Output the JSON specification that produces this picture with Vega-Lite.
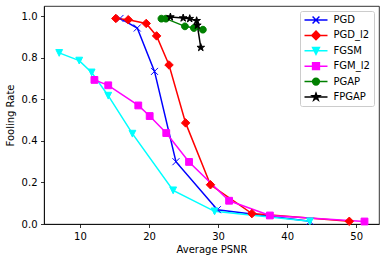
{
  "$schema": "https://vega.github.io/schema/vega-lite/v6.json",
  "width": 335,
  "height": 218,
  "autosize": "none",
  "padding": {"left": 44, "top": 6, "right": 7, "bottom": 38},
  "config": {
    "font": "DejaVu Sans",
    "view": {"stroke": "#000000", "strokeWidth": 0.8},
    "axis": {
      "grid": false,
      "domainColor": "#000000",
      "domainWidth": 0.8,
      "tickColor": "#000000",
      "tickWidth": 0.8,
      "tickSize": 3.5,
      "labelPadding": 3.5,
      "labelFont": "DejaVu Sans",
      "labelFontSize": 10,
      "labelColor": "#000000",
      "titleFont": "DejaVu Sans",
      "titleFontSize": 10,
      "titleFontWeight": "normal",
      "titleColor": "#000000"
    },
    "legend": {
      "orient": "top-right",
      "offset": 5,
      "padding": 3.5,
      "fillColor": "rgba(255,255,255,0.8)",
      "strokeColor": "#cccccc",
      "cornerRadius": 2,
      "labelFont": "DejaVu Sans",
      "labelFontSize": 10,
      "labelColor": "#000000",
      "symbolSize": 529,
      "symbolStrokeWidth": 1.5,
      "clipHeight": 11,
      "rowPadding": 4.4,
      "labelOffset": 5
    }
  },
  "data": {
    "values": [
      {"series": "PGD", "psnr": 15.8, "rate": 0.99},
      {"series": "PGD", "psnr": 18.3, "rate": 0.944},
      {"series": "PGD", "psnr": 20.8, "rate": 0.735},
      {"series": "PGD", "psnr": 23.9, "rate": 0.30},
      {"series": "PGD", "psnr": 29.9, "rate": 0.069},
      {"series": "PGD", "psnr": 43.3, "rate": 0.013},
      {"series": "PGD_l2", "psnr": 15.2, "rate": 0.99},
      {"series": "PGD_l2", "psnr": 17.0, "rate": 0.984},
      {"series": "PGD_l2", "psnr": 19.6, "rate": 0.966},
      {"series": "PGD_l2", "psnr": 21.1, "rate": 0.906},
      {"series": "PGD_l2", "psnr": 22.9, "rate": 0.766},
      {"series": "PGD_l2", "psnr": 25.3, "rate": 0.487},
      {"series": "PGD_l2", "psnr": 28.9, "rate": 0.189},
      {"series": "PGD_l2", "psnr": 34.9, "rate": 0.05},
      {"series": "PGD_l2", "psnr": 49.0, "rate": 0.013},
      {"series": "FGSM", "psnr": 7.0, "rate": 0.824},
      {"series": "FGSM", "psnr": 9.9, "rate": 0.787},
      {"series": "FGSM", "psnr": 11.7, "rate": 0.73},
      {"series": "FGSM", "psnr": 14.1, "rate": 0.618},
      {"series": "FGSM", "psnr": 17.6, "rate": 0.435},
      {"series": "FGSM", "psnr": 23.5, "rate": 0.162},
      {"series": "FGSM", "psnr": 29.5, "rate": 0.061},
      {"series": "FGSM", "psnr": 43.3, "rate": 0.013},
      {"series": "FGM_l2", "psnr": 12.1, "rate": 0.694},
      {"series": "FGM_l2", "psnr": 14.1, "rate": 0.668},
      {"series": "FGM_l2", "psnr": 18.45, "rate": 0.571},
      {"series": "FGM_l2", "psnr": 20.1, "rate": 0.52},
      {"series": "FGM_l2", "psnr": 22.5, "rate": 0.438},
      {"series": "FGM_l2", "psnr": 25.8, "rate": 0.299},
      {"series": "FGM_l2", "psnr": 31.6, "rate": 0.112},
      {"series": "FGM_l2", "psnr": 37.5, "rate": 0.041},
      {"series": "FGM_l2", "psnr": 51.2, "rate": 0.012},
      {"series": "PGAP", "psnr": 21.8, "rate": 0.989},
      {"series": "PGAP", "psnr": 22.45, "rate": 0.989},
      {"series": "PGAP", "psnr": 25.2, "rate": 0.952},
      {"series": "PGAP", "psnr": 26.5, "rate": 0.944},
      {"series": "PGAP", "psnr": 27.8, "rate": 0.936},
      {"series": "FPGAP", "psnr": 23.1, "rate": 0.997},
      {"series": "FPGAP", "psnr": 24.95, "rate": 0.992},
      {"series": "FPGAP", "psnr": 25.9, "rate": 0.989},
      {"series": "FPGAP", "psnr": 26.9, "rate": 0.979},
      {"series": "FPGAP", "psnr": 27.0, "rate": 0.957},
      {"series": "FPGAP", "psnr": 27.5, "rate": 0.85}
    ]
  },
  "encoding": {
    "x": {
      "field": "psnr",
      "type": "quantitative",
      "title": "Average PSNR",
      "scale": {"domain": [4.8, 53.3], "nice": false, "zero": false},
      "axis": {"values": [10, 20, 30, 40, 50], "titlePadding": 3}
    },
    "y": {
      "field": "rate",
      "type": "quantitative",
      "title": "Fooling Rate",
      "scale": {"domain": [0, 1.05], "nice": false, "zero": false},
      "axis": {"values": [0, 0.2, 0.4, 0.6, 0.8, 1.0], "format": ".1f", "titlePadding": 6}
    }
  },
  "layer": [
    {
      "mark": {"type": "line", "strokeWidth": 1.5},
      "encoding": {
        "color": {
          "field": "series",
          "type": "nominal",
          "scale": {
            "domain": ["PGD", "PGD_l2", "FGSM", "FGM_l2", "PGAP", "FPGAP"],
            "range": ["#0000ff", "#ff0000", "#00ffff", "#ff00ff", "#008000", "#000000"]
          },
          "legend": {
            "title": null,
            "encode": {
              "symbols": {
                "update": {
                  "shape": {"signal": "datum.value === 'PGD' ? 'M-1,0L1,0M-0.3,-0.3L0.3,0.3M-0.3,0.3L0.3,-0.3' : datum.value === 'PGD_l2' ? 'M-1,0L1,0M0,-0.37L0.37,0L0,0.37L-0.37,0Z' : datum.value === 'FGSM' ? 'M-1,0L1,0M-0.296,-0.296L0.296,-0.296L0,0.296Z' : datum.value === 'FGM_l2' ? 'M-1,0L1,0M-0.296,-0.296L0.296,-0.296L0.296,0.296L-0.296,0.296Z' : datum.value === 'PGAP' ? 'M-1,0L1,0M0.296,0A0.296,0.296,0,1,1,-0.296,0A0.296,0.296,0,1,1,0.296,0Z' : 'M-1,0L1,0M0,-0.33L0.0737,-0.1014L0.3139,-0.102L0.1193,0.0387L0.194,0.267L0,0.1254L-0.194,0.267L-0.1193,0.0387L-0.3139,-0.102L-0.0737,-0.1014Z'"},
                  "fill": {"signal": "scale('color', datum.value)"},
                  "stroke": {"signal": "scale('color', datum.value)"},
                  "strokeWidth": {"value": 1.5},
                  "opacity": {"value": 1}
                }
              }
            }
          }
        }
      }
    },
    {
      "transform": [{"filter": "datum.series === 'PGD'"}],
      "mark": {"type": "point", "shape": "M-0.875,-0.875L0.875,0.875M-0.875,0.875L0.875,-0.875", "size": 64, "filled": true, "fill": "#0000ff", "stroke": "#0000ff", "strokeWidth": 1, "opacity": 1}
    },
    {
      "transform": [{"filter": "datum.series === 'PGD_l2'"}],
      "mark": {"type": "point", "shape": "M0,-1.06L1.06,0L0,1.06L-1.06,0Z", "size": 64, "filled": true, "fill": "#ff0000", "stroke": "#ff0000", "strokeWidth": 1, "opacity": 1}
    },
    {
      "transform": [{"filter": "datum.series === 'FGSM'"}],
      "mark": {"type": "point", "shape": "M-0.85,-0.85L0.85,-0.85L0,0.85Z", "size": 64, "filled": true, "fill": "#00ffff", "stroke": "#00ffff", "strokeWidth": 1, "opacity": 1}
    },
    {
      "transform": [{"filter": "datum.series === 'FGM_l2'"}],
      "mark": {"type": "point", "shape": "M-0.85,-0.85L0.85,-0.85L0.85,0.85L-0.85,0.85Z", "size": 64, "filled": true, "fill": "#ff00ff", "stroke": "#ff00ff", "strokeWidth": 1, "opacity": 1}
    },
    {
      "transform": [{"filter": "datum.series === 'PGAP'"}],
      "mark": {"type": "point", "shape": "M0.85,0A0.85,0.85,0,1,1,-0.85,0A0.85,0.85,0,1,1,0.85,0Z", "size": 64, "filled": true, "fill": "#008000", "stroke": "#008000", "strokeWidth": 1, "opacity": 1}
    },
    {
      "transform": [{"filter": "datum.series === 'FPGAP'"}],
      "mark": {"type": "point", "shape": "M0,-1L0.2233,-0.3074L0.9511,-0.309L0.3614,0.1174L0.5878,0.809L0,0.38L-0.5878,0.809L-0.3614,0.1174L-0.9511,-0.309L-0.2233,-0.3074Z", "size": 64, "filled": true, "fill": "#000000", "stroke": "#000000", "strokeWidth": 1, "opacity": 1}
    }
  ]
}
